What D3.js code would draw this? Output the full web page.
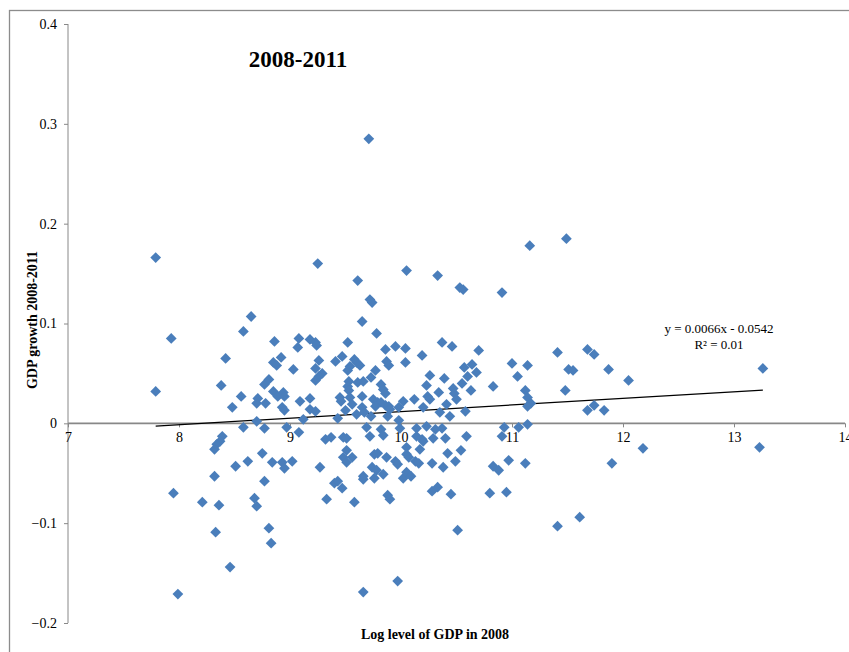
<!DOCTYPE html>
<html>
<head>
	<meta charset="utf-8">
	<title>GDP growth 2008-2011 vs log level of GDP</title>
	<script src="https://d3js.org/d3.v7.min.js"></script>
	<style>
		body { margin: 0; background: #fff; }
		text { font-family: "Liberation Serif", "Times New Roman", serif; fill: #000; }
	</style>
</head>
<body>

	<div id="chart"></div>

	<script type="text/javascript">

		// log level of GDP in 2008 (x) and GDP growth 2008-2011 (y)
		var logGdp = [
			7.79, 7.93, 7.79, 7.95, 7.99, 8.21, 8.33, 8.36, 8.32, 8.39, 8.37, 8.34, 8.32, 8.46,
			8.38, 8.42, 8.48, 8.56, 8.58, 8.65, 8.58, 8.51, 8.62, 8.75, 8.77, 8.68, 8.70, 8.81,
			8.83, 8.84, 8.93, 8.95, 9.02, 8.71, 8.70, 8.78, 8.70, 8.77, 8.81, 8.85, 8.89, 8.94,
			8.95, 8.93, 8.95, 8.77, 8.97, 9.08, 8.86, 8.85, 8.88, 8.92, 9.03, 9.07, 9.08, 9.09,
			9.12,
			9.25, 9.61, 9.71, 9.72, 9.74, 10.05, 10.33, 9.65, 9.78, 9.52, 9.18, 9.23, 9.24, 9.86,
			9.95, 10.04, 10.19, 10.37, 10.46, 9.26, 9.23, 9.41, 9.47, 9.58, 9.60, 9.63, 9.54, 9.52,
			9.87, 9.89, 10.04, 9.77, 9.73, 9.29, 9.26, 9.23, 9.53, 9.52, 9.53, 9.61, 9.66, 9.82,
			9.84, 9.86, 10.26, 10.39, 10.23, 10.34, 10.47, 10.48, 9.18, 9.45, 9.46, 9.54, 9.65, 9.56,
			9.75, 9.79, 9.82, 9.86, 9.89, 10.02, 10.12, 10.24, 10.26, 10.41, 10.50, 9.18, 9.23, 9.50,
			9.65, 9.67, 9.77, 9.90, 9.98, 10.20, 10.35, 10.44, 9.43, 9.60, 9.73, 9.88, 9.98, 9.69,
			9.82, 9.84, 9.72, 9.99, 10.14, 10.23, 10.31, 10.37, 9.32, 9.37, 9.48, 9.51, 10.14, 10.19,
			10.20, 10.29, 10.40, 9.51, 9.56, 9.48, 9.51, 9.27, 9.76, 9.79, 9.87, 9.95, 9.97, 10.05,
			10.05, 10.07, 10.17, 10.13, 10.16, 10.28, 10.38, 10.42, 10.49, 10.54, 9.74, 9.78, 9.84, 9.66,
			9.66, 9.76, 10.02, 10.05, 10.09, 9.40, 9.43, 9.47, 9.33, 9.58, 9.88, 9.90, 10.28, 10.33,
			10.45, 10.51, 9.66, 9.97,
			11.16, 11.49, 10.53, 10.56, 10.91, 10.70, 10.57, 10.64, 10.68, 10.60, 10.55, 10.63, 10.83, 11.00,
			11.14, 11.05, 11.12, 11.14, 11.17, 11.14, 10.58, 11.41, 11.51, 11.55, 11.48, 11.68, 11.74, 11.87,
			11.68, 11.74, 11.83, 11.14, 10.93, 11.06, 10.59, 10.91, 10.83, 10.88, 10.97, 11.12, 10.80, 10.95,
			11.41, 11.61, 11.90,
			12.05, 12.18, 13.23, 13.26
		];

		var growth = [
			0.166, 0.085, 0.032, -0.070, -0.171, -0.079, -0.109, -0.082, -0.053, -0.013, -0.018, -0.021, -0.026, -0.144,
			0.038, 0.065, 0.016, 0.027, 0.092, 0.107, -0.004, -0.043, -0.038, -0.030, -0.058, -0.075, -0.083, -0.105,
			-0.120, -0.039, -0.039, -0.045, -0.038, 0.025, 0.020, 0.020, 0.002, 0.039, 0.044, 0.032, 0.027, 0.031,
			0.027, 0.016, 0.013, -0.005, -0.004, -0.009, 0.082, 0.061, 0.058, 0.066, 0.054, 0.076, 0.085, 0.022,
			0.004,
			0.160, 0.143, 0.285, 0.124, 0.121, 0.153, 0.148, 0.102, 0.090, 0.081, 0.084, 0.081, 0.078, 0.074,
			0.077, 0.075, 0.068, 0.081, 0.077, 0.063, 0.055, 0.062, 0.067, 0.064, 0.061, 0.058, 0.057, 0.053,
			0.062, 0.058, 0.061, 0.053, 0.046, 0.050, 0.047, 0.043, 0.042, 0.037, 0.033, 0.041, 0.042, 0.039,
			0.034, 0.030, 0.048, 0.045, 0.038, 0.031, 0.035, 0.030, 0.025, 0.026, 0.022, 0.026, 0.027, 0.019,
			0.024, 0.021, 0.021, 0.018, 0.017, 0.022, 0.024, 0.027, 0.024, 0.019, 0.024, 0.014, 0.012, 0.013,
			0.016, 0.011, 0.017, 0.014, 0.016, 0.016, 0.011, 0.007, 0.005, 0.009, 0.007, 0.007, 0.003, -0.004,
			-0.006, -0.012, -0.013, -0.005, -0.005, -0.003, -0.006, -0.005, -0.016, -0.014, -0.014, -0.015, -0.013, -0.016,
			-0.018, -0.015, -0.015, -0.027, -0.034, -0.034, -0.039, -0.044, -0.031, -0.030, -0.034, -0.038, -0.041, -0.024,
			-0.031, -0.034, -0.026, -0.038, -0.040, -0.040, -0.044, -0.030, -0.038, -0.027, -0.044, -0.047, -0.051, -0.053,
			-0.056, -0.055, -0.055, -0.049, -0.053, -0.060, -0.058, -0.065, -0.076, -0.079, -0.072, -0.076, -0.068, -0.064,
			-0.071, -0.107, -0.169, -0.158,
			0.178, 0.185, 0.136, 0.134, 0.131, 0.073, 0.056, 0.059, 0.051, 0.047, 0.040, 0.033, 0.037, 0.060,
			0.058, 0.047, 0.033, 0.026, 0.020, 0.017, 0.012, 0.071, 0.054, 0.053, 0.033, 0.074, 0.069, 0.054,
			0.013, 0.018, 0.013, -0.001, -0.004, -0.004, -0.013, -0.013, -0.043, -0.047, -0.037, -0.040, -0.070, -0.069,
			-0.103, -0.094, -0.040,
			0.043, -0.025, -0.024, 0.055
		];

		var xTicks = [7, 8, 9, 10, 11, 12, 13, 14];
		var yTicks = [-0.2, -0.1, 0, 0.1, 0.2, 0.3, 0.4];

		// linear trendline as printed on the chart
		var trendSlope = 0.0066;
		var trendIntercept = -0.0542;
		var trendLabel = ["y = 0.0066x - 0.0542", "R\u00b2 = 0.01"];

		var width = 849, height = 652;
		var margin = {top: 24, right: 4, bottom: 29, left: 68};

		var data = logGdp.map(function(d, i) { return {x: d, y: growth[i]}; });

		var svg = d3.select("#chart").append("svg")
			.attr("width", width)
			.attr("height", height);

		// outer chart frame
		svg.append("rect")
			.attr("x", 9.5).attr("y", 10.5)
			.attr("width", 900).attr("height", 700)
			.attr("fill", "none")
			.attr("stroke", "#8c8c8c")
			.attr("stroke-width", 1.3);

		var x = d3.scaleLinear().domain([7, 14]).range([margin.left, width - margin.right]);
		var y = d3.scaleLinear().domain([-0.2, 0.4]).range([height - margin.bottom, margin.top]);

		var axisColor = "#888";

		// y axis on the left
		var yAxis = svg.append("g")
			.attr("transform", "translate(" + x(7) + ",0)")
			.call(d3.axisLeft(y).tickValues(yTicks).tickSize(4).tickPadding(7)
				.tickFormat(function(d) { return d === 0 ? "0" : d3.format(".1f")(d); }));
		yAxis.selectAll(".domain").attr("stroke", axisColor).attr("d", "M0," + y(-0.2) + "V" + y(0.4));
		yAxis.selectAll(".tick line").attr("stroke", axisColor);
		yAxis.selectAll("text").style("font-size", "14px").attr("font-family", null);

		// x axis crosses at zero
		var xAxis = svg.append("g")
			.attr("transform", "translate(0," + y(0) + ")")
			.call(d3.axisBottom(x).tickValues(xTicks).tickSize(4).tickPadding(5).tickFormat(d3.format("d")));
		xAxis.selectAll(".domain").attr("stroke", axisColor).attr("stroke-width", 1.8)
			.attr("d", "M" + x(7) + ",0H" + x(14));
		xAxis.selectAll(".tick line").attr("stroke", axisColor);
		xAxis.selectAll("text").style("font-size", "14px").attr("font-family", null);

		// trendline over the range of the data
		var xExt = d3.extent(logGdp);
		svg.append("line")
			.attr("x1", x(xExt[0])).attr("y1", y(trendSlope * xExt[0] + trendIntercept))
			.attr("x2", x(xExt[1])).attr("y2", y(trendSlope * xExt[1] + trendIntercept))
			.attr("stroke", "#000")
			.attr("stroke-width", 1.2);

		// the points
		var diamond = d3.symbol().type(d3.symbolDiamond2).size(74);
		svg.append("g").selectAll("path")
			.data(data)
			.enter().append("path")
			.attr("d", diamond)
			.attr("transform", function(d) { return "translate(" + x(d.x) + "," + y(d.y) + ")"; })
			.attr("fill", "#4a7ebb");

		// trendline equation
		svg.append("g").selectAll("text")
			.data(trendLabel)
			.enter().append("text")
			.attr("x", 719)
			.attr("y", function(d, i) { return 333 + i * 16; })
			.attr("text-anchor", "middle")
			.style("font-size", "13px")
			.text(function(d) { return d; });

		// title
		svg.append("text")
			.attr("x", 298).attr("y", 67)
			.attr("text-anchor", "middle")
			.style("font-size", "23px")
			.style("font-weight", "bold")
			.text("2008-2011");

		// axis titles
		svg.append("text")
			.attr("x", 435).attr("y", 639)
			.attr("text-anchor", "middle")
			.style("font-size", "14px")
			.style("font-weight", "bold")
			.text("Log level of GDP  in 2008");

		svg.append("text")
			.attr("transform", "translate(37,320) rotate(-90)")
			.attr("text-anchor", "middle")
			.style("font-size", "14px")
			.style("font-weight", "bold")
			.text("GDP growth  2008-2011");

	</script>
</body>
</html>
